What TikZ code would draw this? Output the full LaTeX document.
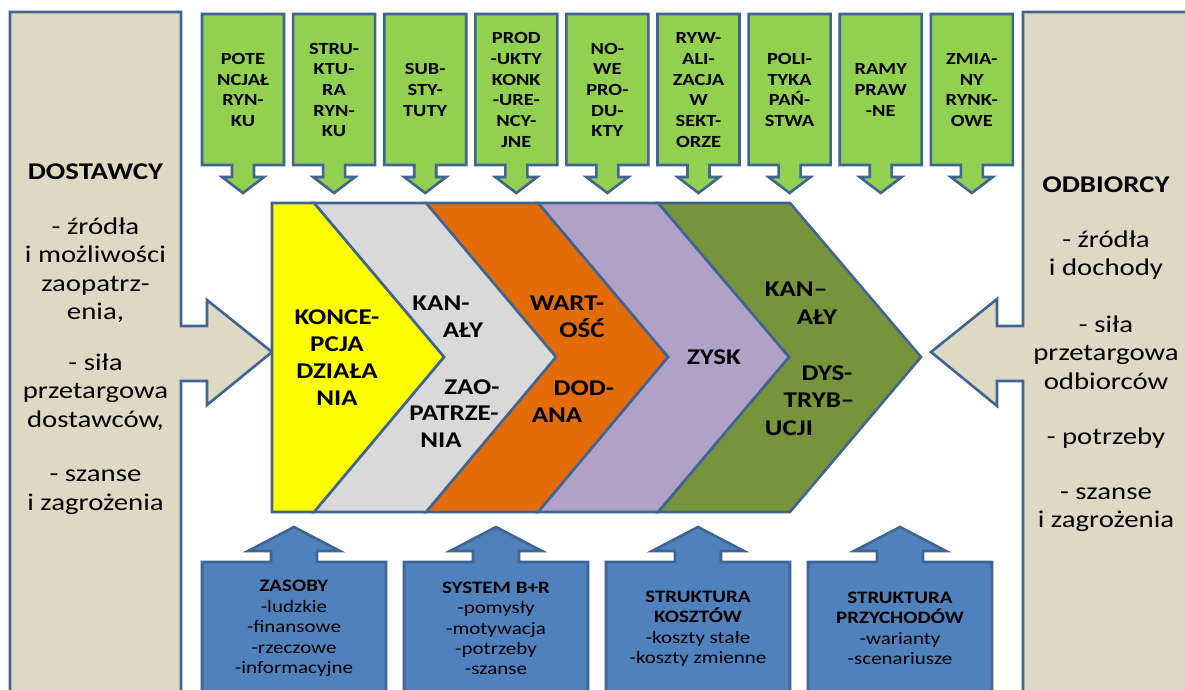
\documentclass[tikz,border=0pt]{standalone}
\usepackage{fontspec}
\setmainfont{Carlito}[FakeStretch=1.2]
\definecolor{bord}{HTML}{3F6592}
\definecolor{beige}{HTML}{DDD9C3}
\definecolor{grn}{HTML}{92D050}
\definecolor{blu}{HTML}{4F81BD}
\definecolor{yel}{HTML}{FFFF00}
\definecolor{gry}{HTML}{D9D9D9}
\definecolor{ora}{HTML}{E36C09}
\definecolor{pur}{HTML}{B2A1C7}
\definecolor{oli}{HTML}{77933C}
\begin{document}
\begin{tikzpicture}[x=1pt,y=-1pt,
  outl/.style={draw=bord, line width=2.6pt, line join=miter},
  sidetxt/.style={align=center, font=\fontsize{24}{28.5}\selectfont},
  grntxt/.style={align=center, font=\bfseries\fontsize{17}{20.7}\selectfont},
  blutxt/.style={align=center, font=\fontsize{17.5}{20.4}\selectfont},
  chev/.style={anchor=base, inner sep=0pt, font=\bfseries\fontsize{22.5}{27}\selectfont}]
\useasboundingbox (0,0) rectangle (1185,690);
\clip (0,0) rectangle (1185,690);
\fill[white] (0,0) rectangle (1185,690);

% side panels
\draw[outl, fill=beige] (10,12) -- (181,12) -- (181,326) -- (207,326) -- (207,300) -- (272,352)
  -- (207,405) -- (207,381) -- (181,381) -- (181,710) -- (10,710) -- cycle;
\draw[outl, fill=beige] (1023,12) -- (1200,12) -- (1200,710) -- (1023,710) -- (1023,381) -- (997,381)
  -- (997,406) -- (931,352) -- (997,299) -- (997,326) -- (1023,326) -- cycle;
\node[sidetxt] (dost) at (95.5,339) {\textbf{DOSTAWCY}\\[26pt]- źródła\\i możliwości\\zaopatrz-\\enia,\\[22pt]- siła\\przetargowa\\dostawców,\\[26pt]- szanse\\i zagrożenia};
\node[sidetxt] (odb) at (1106,354.5) {\textbf{ODBIORCY}\\[26pt]- źródła\\i dochody\\[28pt]- siła\\przetargowa\\odbiorców\\[27pt]- potrzeby\\[26pt]- szanse\\i zagrożenia};

% green arrows
\foreach \i/\t in {0/{POTE\\NCJAŁ\\RYN-\\KU},
                   1/{STRU-\\KTU-\\RA\\RYN-\\KU},
                   2/{SUB-\\STY-\\TUTY},
                   3/{PROD\\-UKTY\\KONK\\-URE-\\NCY-\\JNE},
                   4/{NO-\\WE\\PRO-\\DU-\\KTY},
                   5/{RYW-\\ALI-\\ZACJA\\W\\SEKT-\\ORZE},
                   6/{POLI-\\TYKA\\PAŃ-\\STWA},
                   7/{RAMY\\PRAW\\-NE},
                   8/{ZMIA-\\NY\\RYNK-\\OWE}}{
  \pgfmathsetmacro{\L}{202+91.1*\i}
  \pgfmathsetmacro{\R}{\L+82}
  \pgfmathsetmacro{\c}{\L+41}
  \draw[outl, fill=grn] (\L,14) -- (\R,14) -- (\R,165) -- (\c+11,165) -- (\c+11,177) -- (\c+21,177)
    -- (\c,193) -- (\c-21,177) -- (\c-11,177) -- (\c-11,165) -- (\L,165) -- cycle;
  \node[grntxt] (g\i) at (\c,90) {\t};
}

% blue arrows
\foreach \i/\t in {0/{\textbf{ZASOBY}\\-ludzkie\\-finansowe\\-rzeczowe\\-informacyjne},
                   1/{\textbf{SYSTEM B+R}\\-pomysły\\-motywacja\\-potrzeby\\-szanse},
                   2/{\textbf{STRUKTURA}\\\textbf{KOSZTÓW}\\-koszty stałe\\-koszty zmienne},
                   3/{\textbf{STRUKTURA}\\\textbf{PRZYCHODÓW}\\-warianty\\-scenariusze}}{
  \pgfmathsetmacro{\L}{202+202*\i}
  \pgfmathsetmacro{\R}{\L+184}
  \pgfmathsetmacro{\c}{\L+92}
  \draw[outl, fill=blu] (\L,710) -- (\L,562) -- (\c-23,562) -- (\c-23,551) -- (\c-46,551) -- (\c,527)
    -- (\c+46,551) -- (\c+23,551) -- (\c+23,562) -- (\R,562) -- (\R,710) -- cycle;
  \node[blutxt] (b\i) at (\c,628.5) {\t};
}

% chevrons
\draw[outl, fill=oli] (658,203) -- (790,203) -- (921,357) -- (790,512) -- (658,512) -- (789,357) -- cycle;
\draw[outl, fill=pur] (538,203) -- (658,203) -- (789,357) -- (658,512) -- (538,512) -- (668,357) -- cycle;
\draw[outl, fill=ora] (426,203) -- (538,203) -- (668,357) -- (538,512) -- (426,512) -- (556,357) -- cycle;
\draw[outl, fill=gry] (314,203) -- (426,203) -- (556,357) -- (426,512) -- (314,512) -- (444,357) -- cycle;
\draw[outl, fill=yel] (272,203) -- (314,203) -- (444,357) -- (314,512) -- (272,512) -- cycle;

\node[chev] (c1a) at (337,324) {KONCE-};
\node[chev] (c1b) at (337,351) {PCJA};
\node[chev] (c1c) at (337,378) {DZIAŁA};
\node[chev] (c1d) at (337,405) {NIA};
\node[chev] (c2a) at (441,310) {KAN-};
\node[chev] (c2b) at (463,337) {AŁY};
\node[chev] (c2c) at (472,394) {ZAO-};
\node[chev] (c2d) at (454,420) {PATRZE-};
\node[chev] (c2e) at (441,447) {NIA};
\node[chev] (c3a) at (567,310) {WART-};
\node[chev] (c3b) at (582,337) {OŚĆ};
\node[chev] (c3c) at (584,395) {DOD-};
\node[chev] (c3d) at (557,422) {ANA};
\node[chev] (c4a) at (714,364) {ZYSK};
\node[chev] (c5a) at (796,296) {KAN–};
\node[chev] (c5b) at (817,324) {AŁY};
\node[chev] (c5c) at (827,380) {DYS-};
\node[chev] (c5d) at (819,407) {TRYB–};
\node[chev] (c5e) at (789,435) {UCJI};
\end{tikzpicture}
\end{document}
